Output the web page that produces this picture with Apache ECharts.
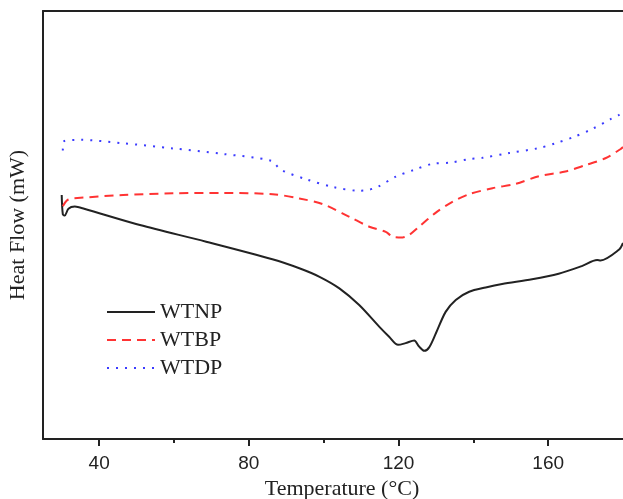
<!DOCTYPE html>
<html>
<head>
<meta charset="utf-8">
<script src="https://cdn.jsdelivr.net/npm/echarts@6/dist/echarts.min.js"></script>
<style>
  html, body { margin: 0; padding: 0; background: #fff; }
  #res { width: 623px; height: 499px; }
</style>
</head>
<body>
<div id="res"></div>
<script>
// temperatures (°C) and heat flow (mW, arbitrary offset)
const tempNP = [30.0, 30.3, 30.8, 31.8, 33.5, 36, 50.9, 68.6, 86.3, 93.5, 98.9, 104.2, 109.5, 114.9, 117.5, 119.9, 121.9, 124.2, 125.5, 126.9, 128.2, 130, 132.6, 135.3, 138.9, 143.3, 147.7, 155.7, 162.8, 169, 173.1, 174, 178.9, 180];
const flowNP = [5.70, 5.25, 5.22, 5.38, 5.43, 5.38, 5.00, 4.61, 4.20, 3.99, 3.79, 3.52, 3.13, 2.62, 2.39, 2.20, 2.24, 2.30, 2.16, 2.06, 2.14, 2.47, 2.97, 3.25, 3.44, 3.54, 3.62, 3.73, 3.86, 4.04, 4.18, 4.17, 4.42, 4.58];

const tempBP = [30.3, 31.5, 33.1, 46.4, 59.7, 73.1, 86.4, 93.5, 99.7, 106.9, 112.2, 116.6, 118.4, 121.1, 122.9, 125.5, 130, 134.4, 138.9, 145.1, 151.3, 157.5, 164.6, 170, 175.3, 179.3, 180];
const flowBP = [5.44, 5.58, 5.62, 5.70, 5.74, 5.75, 5.72, 5.62, 5.49, 5.19, 4.96, 4.84, 4.73, 4.71, 4.77, 4.96, 5.29, 5.54, 5.72, 5.86, 5.96, 6.14, 6.25, 6.40, 6.56, 6.77, 6.82];

const tempDP = [30.3, 30.5, 34.9, 46.4, 59.7, 73.1, 86, 88.6, 95.3, 102.4, 109.5, 111.9, 114.4, 119.3, 124.2, 129.1, 134, 138.9, 142.4, 149.5, 157.1, 162, 166.9, 171.7, 176.6, 178.9, 180];
const flowDP = [6.74, 6.95, 6.99, 6.91, 6.79, 6.66, 6.50, 6.29, 6.07, 5.89, 5.80, 5.82, 5.89, 6.13, 6.29, 6.43, 6.46, 6.54, 6.57, 6.68, 6.79, 6.91, 7.06, 7.24, 7.47, 7.57, 7.64];

const names = ['WTNP', 'WTBP', 'WTDP'];
const majorTicks = [40, 80, 120, 160];
const minorTicks = [60, 100, 140];

function pairs(xs, ys) {
  return xs.map((x, i) => [x, ys[i]]);
}

let chartDom = document.getElementById('res');
let myChart = echarts.init(chartDom);
const serif = '"Liberation Serif", "Times New Roman", serif';
const sans = '"Liberation Sans", Arial, sans-serif';
let option = {
  animation: false,
  grid: {
    left: 43,
    right: 0,
    top: 11,
    bottom: 60,
    outerBoundsMode: 'none'
  },
  legend: {
    orient: 'vertical',
    left: 101,
    top: 296,
    itemWidth: 48,
    itemHeight: 14,
    itemGap: 6,
    data: names,
    itemStyle: {opacity: 0},
    textStyle: {
      fontFamily: serif,
      fontSize: 22,
      color: '#222'
    }
  },
  xAxis: [
    {
      type: 'value',
      min: 25,
      max: 180,
      name: 'Temperature (°C)',
      nameLocation: 'middle',
      nameGap: 38,
      nameTextStyle: {
        fontFamily: serif,
        fontSize: 22,
        color: '#222',
        padding: [0, 0, 0, 18]
      },
      axisLine: {lineStyle: {color: '#222', width: 2}},
      axisTick: {
        show: true,
        inside: false,
        length: 7,
        customValues: majorTicks,
        lineStyle: {color: '#222', width: 2}
      },
      axisLabel: {
        customValues: majorTicks,
        margin: 15,
        fontFamily: sans,
        fontSize: 19,
        color: '#222'
      },
      splitLine: {show: false}
    },
    {
      type: 'value',
      min: 25,
      max: 180,
      position: 'bottom',
      axisLine: {show: false},
      axisTick: {
        show: true,
        length: 4,
        customValues: minorTicks,
        lineStyle: {color: '#222', width: 2}
      },
      axisLabel: {show: false},
      splitLine: {show: false}
    },
    {
      type: 'value',
      min: 25,
      max: 180,
      position: 'top',
      axisLine: {lineStyle: {color: '#222', width: 2}},
      axisTick: {show: false},
      axisLabel: {show: false},
      splitLine: {show: false}
    }
  ],
  yAxis: {
    type: 'value',
    min: 0,
    max: 10,
    name: 'Heat Flow (mW)',
    nameLocation: 'middle',
    nameRotate: 90,
    nameGap: 14,
    nameTextStyle: {
      fontFamily: serif,
      fontSize: 22,
      color: '#222'
    },
    axisLine: {show: true, lineStyle: {color: '#222', width: 2}},
    axisTick: {show: false},
    axisLabel: {show: false},
    splitLine: {show: false}
  },
  series: [
    {
      name: names[0],
      type: 'line',
      data: pairs(tempNP, flowNP),
      symbol: 'none',
      smooth: 0.3,
      color: '#222',
      lineStyle: {color: '#222', width: 2, type: 'solid'}
    },
    {
      name: names[1],
      type: 'line',
      data: pairs(tempBP, flowBP),
      symbol: 'none',
      smooth: 0.3,
      color: '#ff3333',
      lineStyle: {color: '#ff3333', width: 2, type: [9, 6]}
    },
    {
      name: names[2],
      type: 'line',
      data: pairs(tempDP, flowDP),
      symbol: 'none',
      smooth: 0.3,
      color: '#3b3bff',
      lineStyle: {color: '#3b3bff', width: 2, type: [2, 7]}
    }
  ]
};
option && myChart.setOption(option);
</script>
</body>
</html>
